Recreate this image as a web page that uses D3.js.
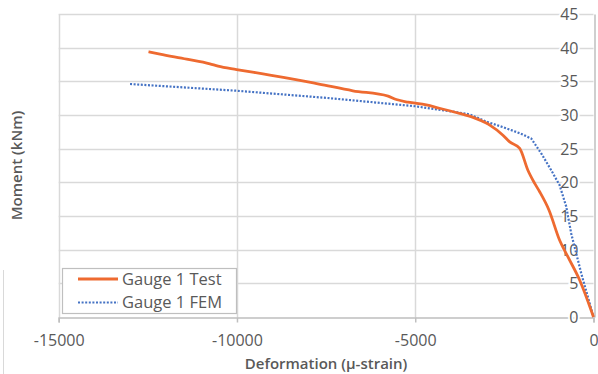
<!DOCTYPE html>
<html>
<head>
<meta charset="utf-8">
<script src="https://cdn.jsdelivr.net/npm/d3@7"></script>
<style>
  body { margin: 0; background: #fff; }
  text { font-family: "Open Sans", sans-serif; fill: #595959; }
</style>
</head>
<body>
<svg id="chart" width="598" height="374"></svg>
<script>
// data
var testDeformation = [-12480, -12160, -11410, -10760, -10530, -10010, -9270, -8700, -7700, -6750, -5760, -5530, -5200, -4690, -4320, -3760, -3380, -3010, -2910, -2540, -2350, -2070, -1840, -1650, -1510, -1250, -950, -720, -390, 0];
var testMoment      = [39.4, 39.05, 38.3, 37.6, 37.25, 36.75, 36.1, 35.6, 34.6, 33.6, 32.8, 32.3, 31.9, 31.5, 31.0, 30.25, 29.65, 28.8, 28.5, 27.0, 26.0, 25.05, 21.8, 19.85, 18.6, 15.9, 11.4, 8.96, 5.5, 0];

var femDeformation = [-13000, -10000, -7400, -5000, -3950, -3475, -3000, -2540, -2070, -1746, -1466, -1186, -953, -765, -625, -345, 0];
var femMoment      = [34.6, 33.6, 32.5, 31.3, 30.5, 30.1, 29.0, 28.2, 27.3, 26.5, 24.3, 21.8, 19.6, 16.4, 12.4, 6.5, 0];

var xTicks = [-15000, -10000, -5000, 0];
var yTicks = [0, 5, 10, 15, 20, 25, 30, 35, 40, 45];
var seriesNames = ["Gauge 1 Test", "Gauge 1 FEM"];

var svg = d3.select("#chart");

var x = d3.scaleLinear().domain([-15000, 0]).range([58.7, 593.5]);
var y = d3.scaleLinear().domain([0, 45]).range([317, 14]);

// stray border line at the left
svg.append("line")
    .attr("x1", 3.5).attr("x2", 3.5)
    .attr("y1", 270).attr("y2", 374)
    .attr("stroke", "#d9d9d9").attr("stroke-width", 1);

// gridlines
svg.append("g").selectAll("line")
    .data(yTicks.filter(function(d){ return d > 0; }))
    .enter().append("line")
    .attr("x1", x(-15000)).attr("x2", x(0))
    .attr("y1", function(d){ return Math.round(y(d)) + 0.5; })
    .attr("y2", function(d){ return Math.round(y(d)) + 0.5; })
    .attr("stroke", "#d9d9d9").attr("stroke-width", 1.5);

svg.append("g").selectAll("line")
    .data(xTicks.filter(function(d){ return d < 0; }))
    .enter().append("line")
    .attr("x1", function(d){ return Math.round(x(d)) + 0.5; })
    .attr("x2", function(d){ return Math.round(x(d)) + 0.5; })
    .attr("y1", y(45)).attr("y2", y(0))
    .attr("stroke", "#d9d9d9").attr("stroke-width", 1.5);

// x axis
var xAxis = d3.axisBottom(x).tickValues(xTicks).tickSize(5).tickFormat(d3.format("d"));
var gx = svg.append("g")
    .attr("transform", "translate(0," + (Math.round(y(0)) + 0.5) + ")")
    .call(xAxis);
gx.select(".domain").attr("stroke", "#bfbfbf").attr("stroke-width", 1.5);
gx.selectAll(".tick line").attr("stroke", "#bfbfbf").attr("stroke-width", 1.5);
gx.selectAll(".tick text")
    .attr("y", 17).attr("dy", "0.71em")
    .style("font-size", "16px")
    .style("font-family", "'Open Sans', sans-serif")
    .attr("fill", "#595959")
    .text(function(d){ return d === 0 ? "0" : d3.format("d")(d).replace("−", "-"); });

// y axis sits at x = 0, labels to its left
var yAxis = d3.axisLeft(y).tickValues(yTicks).tickSize(0);
var gy = svg.append("g")
    .attr("transform", "translate(" + (Math.round(x(0)) + 0.5) + ",0)")
    .call(yAxis);
gy.select(".domain").attr("stroke", "#bfbfbf").attr("stroke-width", 1.5);
gy.selectAll(".tick text")
    .attr("x", -16)
    .attr("dy", "0.35em")
    .style("font-size", "16px")
    .style("font-family", "'Open Sans', sans-serif")
    .attr("fill", "#595959")
    .attr("stroke", "#fff").attr("stroke-width", 4)
    .attr("paint-order", "stroke");

// series
var line = d3.line()
    .curve(d3.curveMonotoneX)
    .x(function(d){ return x(d[0]); })
    .y(function(d){ return y(d[1]); });

var femLine = d3.line()
    .x(function(d){ return x(d[0]); })
    .y(function(d){ return y(d[1]); });

var femData = d3.zip(femDeformation, femMoment);
var testData = d3.zip(testDeformation, testMoment);

svg.append("path")
    .datum(femData)
    .attr("d", femLine)
    .attr("fill", "none")
    .attr("stroke", "#4472C4")
    .attr("stroke-width", 2.2)
    .attr("stroke-dasharray", "2,1.6");

svg.append("path")
    .datum(testData)
    .attr("d", line)
    .attr("fill", "none")
    .attr("stroke", "#EE6A30")
    .attr("stroke-width", 2.8)
    .attr("stroke-linejoin", "round");

// axis titles
svg.append("text")
    .attr("x", (x(-15000) + x(0)) / 2)
    .attr("y", 369)
    .attr("text-anchor", "middle")
    .style("font-size", "15px")
    .style("font-weight", "600")
    .text("Deformation (μ-strain)");

svg.append("text")
    .attr("transform", "translate(22," + ((y(0) + y(45)) / 2) + ") rotate(-90)")
    .attr("text-anchor", "middle")
    .style("font-size", "15px")
    .style("font-weight", "600")
    .text("Moment (kNm)");

// legend
var legend = svg.append("g");
legend.append("rect")
    .attr("x", 62.5).attr("y", 268.5)
    .attr("width", 174).attr("height", 45)
    .attr("fill", "#fff")
    .attr("stroke", "#bfbfbf").attr("stroke-width", 1.2);

var legendStyles = [
    { color: "#EE6A30", width: 2.8, dash: null },
    { color: "#4472C4", width: 2.2, dash: "2,1.6" }
];

seriesNames.forEach(function(name, i){
    var ly = 279 + i * 23.5;
    legend.append("line")
        .attr("x1", 78).attr("x2", 118)
        .attr("y1", ly).attr("y2", ly)
        .attr("stroke", legendStyles[i].color)
        .attr("stroke-width", legendStyles[i].width)
        .attr("stroke-dasharray", legendStyles[i].dash);
    legend.append("text")
        .attr("x", 122).attr("y", ly)
        .attr("dy", "0.35em")
        .style("font-size", "16.5px")
        .text(name);
});
</script>
</body>
</html>
